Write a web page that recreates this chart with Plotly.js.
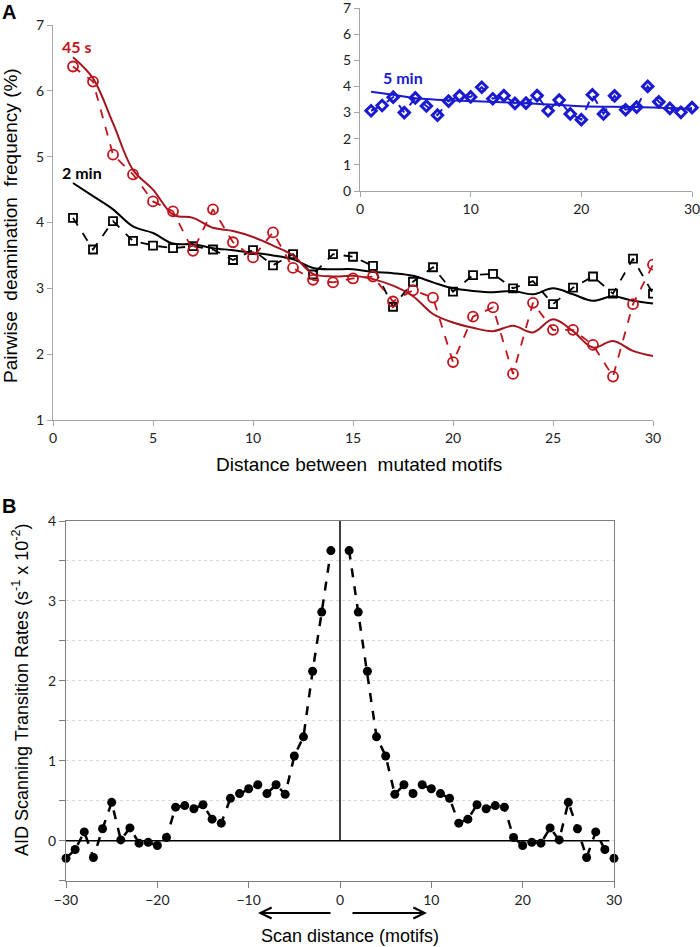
<!DOCTYPE html>
<html>
<head>
<meta charset="utf-8">
<script src="https://cdn.plot.ly/plotly-3.0.1.min.js"></script>
<style>html,body{margin:0;padding:0;background:#fff}#chart{width:700px;height:947px}</style>
</head>
<body>
<div id="chart"></div>
<script>
// ---------- Panel A (main) ----------
const distA = [1,2,3,4,5,6,7,8,9,10,11,12,13,14,15,16,17,18,19,20,21,22,23,24,25,26,27,28,29,30];
const freq45s = [6.37,6.14,5.03,4.73,4.32,4.17,3.57,4.20,3.70,3.47,3.85,3.31,3.13,3.09,3.15,3.18,2.80,2.97,2.86,1.88,2.57,2.71,1.70,2.78,2.37,2.37,2.14,1.66,2.76,3.36];
const trend45s = [6.51,6.19,5.51,4.80,4.50,4.12,4.07,3.92,3.87,3.78,3.65,3.50,3.22,3.18,3.19,3.14,3.04,2.88,2.61,2.48,2.40,2.35,2.43,2.33,2.53,2.35,2.10,2.20,2.05,1.97];
const freq2min = [4.07,3.59,4.02,3.72,3.65,3.61,3.64,3.59,3.43,3.58,3.35,3.52,3.21,3.52,3.48,3.34,2.72,3.10,3.32,2.95,3.20,3.22,3.00,3.11,2.76,3.01,3.18,2.92,3.45,2.92];
const trend2min = [4.60,4.40,4.20,3.94,3.84,3.68,3.67,3.61,3.58,3.54,3.50,3.44,3.31,3.29,3.29,3.25,3.23,3.19,3.09,3.00,2.96,2.94,2.96,2.91,3.00,2.91,2.81,2.88,2.81,2.77];
const xTicksA = [0,5,10,15,20,25,30];
const yTicksA = [1,2,3,4,5,6,7];

// ---------- Panel A (inset, 5 min) ----------
const freq5min = [3.07,3.27,3.59,3.00,3.56,3.25,2.90,3.44,3.64,3.60,3.97,3.53,3.65,3.35,3.36,3.65,3.07,3.48,2.95,2.73,3.68,2.95,3.64,3.11,3.21,4.00,3.41,3.16,3.01,3.19];
const trend5minX = [1,3,5,10,15,20,25,30];
const trend5min = [3.80,3.68,3.55,3.44,3.36,3.24,3.21,3.14];
const xTicksInset = [0,10,20,30];
const yTicksInset = [0,1,2,3,4,5,6,7];

// ---------- Panel B ----------
const scanLeftX = [-30,-29,-28,-27,-26,-25,-24,-23,-22,-21,-20,-19,-18,-17,-16,-15,-14,-13,-12,-11,-10,-9,-8,-7,-6,-5,-4,-3,-2,-1];
const scanLeftRate = [-0.22,-0.11,0.11,-0.21,0.15,0.48,0.01,0.16,-0.03,-0.02,-0.06,0.04,0.42,0.44,0.40,0.45,0.27,0.22,0.53,0.59,0.65,0.70,0.59,0.70,0.58,1.06,1.30,2.12,2.86,3.63];
const scanRightX = [1,2,3,4,5,6,7,8,9,10,11,12,13,14,15,16,17,18,19,20,21,22,23,24,25,26,27,28,29,30];
const scanRightRate = [3.63,2.86,2.12,1.30,1.06,0.58,0.70,0.59,0.70,0.65,0.59,0.53,0.22,0.27,0.45,0.40,0.44,0.42,0.04,-0.06,-0.02,-0.03,0.16,0.01,0.48,0.15,-0.21,0.11,-0.11,-0.22];
const xTicksB = [-30,-20,-10,0,10,20,30];
const yGridB = [-0.5,0,0.5,1,1.5,2,2.5,3,3.5,4];

const RED = '#c0141c', RED_LINE = '#a3151f', BLUE = '#1a1ad0';
const tickFont = {family: 'Lato, Carlito, sans-serif', size: 14, color: '#222'};
const W = 700, H = 947;
const px = v => v / W, py = v => 1 - v / H;

const scanX = scanLeftX.concat([0], scanRightX);
const scanY = scanLeftRate.concat([null], scanRightRate);

const traces = [
  {x: distA, y: trend2min, mode: 'lines', line: {color: '#000', width: 2, shape: 'spline'}, xaxis: 'x', yaxis: 'y', hoverinfo: 'skip'},
  {x: distA, y: freq2min, mode: 'lines+markers', line: {color: '#000', width: 1.8, dash: 'dash'},
   marker: {symbol: 'square-open', size: 8, color: '#000', line: {width: 1.8, color: '#000'}}, xaxis: 'x', yaxis: 'y'},
  {x: distA, y: trend45s, mode: 'lines', line: {color: RED_LINE, width: 2, shape: 'spline'}, xaxis: 'x', yaxis: 'y', hoverinfo: 'skip'},
  {x: distA, y: freq45s, mode: 'lines+markers', line: {color: RED, width: 1.8, dash: 'dash'},
   marker: {symbol: 'circle-open', size: 10, color: RED, line: {width: 1.8, color: RED}}, xaxis: 'x', yaxis: 'y'},
  {x: trend5minX, y: trend5min, mode: 'lines', line: {color: BLUE, width: 2, shape: 'spline'}, xaxis: 'x2', yaxis: 'y2', hoverinfo: 'skip'},
  {x: distA, y: freq5min, mode: 'lines+markers', cliponaxis: false, line: {color: BLUE, width: 2, dash: 'dash'},
   marker: {symbol: 'diamond-open', size: 8, color: BLUE, line: {width: 3, color: BLUE}}, xaxis: 'x2', yaxis: 'y2'},
  {x: scanX, y: scanY, mode: 'lines+markers', connectgaps: false, cliponaxis: false, line: {color: '#000', width: 2.5, dash: 'dash'},
   marker: {symbol: 'circle', size: 9, color: '#000'}, xaxis: 'x3', yaxis: 'y3'}
];

const axBase = {showline: true, linecolor: '#a6a6a6', linewidth: 1.2, ticks: 'outside', ticklen: 5, tickcolor: '#a6a6a6',
  showgrid: false, zeroline: false, tickfont: tickFont, fixedrange: true, ticklabeloverflow: 'allow'};

const titleFontA = {family: 'Liberation Sans, Arial, sans-serif', size: 19, color: '#000'};
const titleFontB = {family: 'Liberation Sans, Arial, sans-serif', size: 18, color: '#000'};
const ann = (o) => Object.assign({xref: 'paper', yref: 'paper', xanchor: 'center', yanchor: 'middle', showarrow: false}, o);

const layout = {
  width: W, height: H, margin: {l: 0, r: 0, t: 0, b: 0}, showlegend: false,
  paper_bgcolor: '#fff', plot_bgcolor: 'rgba(0,0,0,0)',
  xaxis: Object.assign({}, axBase, {domain: [px(53), px(653)], range: [0, 30], tickvals: xTicksA, anchor: 'y'}),
  yaxis: Object.assign({}, axBase, {domain: [py(420), py(25)], range: [1, 7], tickvals: yTicksA, anchor: 'x'}),
  xaxis2: Object.assign({}, axBase, {domain: [px(360), px(692)], range: [0, 30], tickvals: xTicksInset, anchor: 'y2'}),
  yaxis2: Object.assign({}, axBase, {domain: [py(191), py(8)], range: [0, 7], tickvals: yTicksInset, anchor: 'x2'}),
  xaxis3: Object.assign({}, axBase, {domain: [px(66), px(614)], range: [-30, 30], tickvals: xTicksB, anchor: 'y3',
    mirror: true, linecolor: '#7f7f7f', tickcolor: '#7f7f7f', ticklen: 6}),
  yaxis3: Object.assign({}, axBase, {domain: [py(880.7), py(521)], range: [-0.5, 4], anchor: 'x3',
    tickvals: yGridB, ticktext: yGridB.map(v => Number.isInteger(v) ? String(v) : ''),
    mirror: true, linecolor: '#7f7f7f', tickcolor: '#7f7f7f', ticklen: 6,
    showgrid: true, gridcolor: '#d9d9d9', griddash: 'dot', gridwidth: 1}),
  shapes: [
    {type: 'line', xref: 'x3', yref: 'y3', x0: -30, x1: 29.5, y0: 0, y1: 0, line: {color: '#000', width: 1.5}},
    {type: 'line', xref: 'x3', yref: 'y3', x0: 0, x1: 0, y0: 0, y1: 4.04, line: {color: '#000', width: 1.5}}
  ],
  annotations: [
    ann({text: '<b>A</b>', x: px(9), y: py(12), font: {family: 'Liberation Sans, Arial, sans-serif', size: 20, color: '#000'}}),
    ann({text: '<b>B</b>', x: px(9), y: py(506), font: {family: 'Liberation Sans, Arial, sans-serif', size: 20, color: '#000'}}),
    ann({text: '<b>45 s</b>', xref: 'x', yref: 'y', x: 1.15, y: 6.67, font: {family: 'Lato, sans-serif', size: 16, color: RED}}),
    ann({text: '<b>2 min</b>', xref: 'x', yref: 'y', x: 1.45, y: 4.76, font: {family: 'Lato, sans-serif', size: 16, color: '#000'}}),
    ann({text: '<b>5 min</b>', xref: 'x2', yref: 'y2', x: 3.9, y: 4.35, font: {family: 'Lato, sans-serif', size: 16, color: BLUE}}),
    ann({text: 'Pairwise\u00a0\u00a0deamination\u00a0\u00a0frequency (%)', x: px(10), y: py(226), textangle: -90, font: titleFontA}),
    ann({text: 'Distance between\u00a0\u00a0mutated motifs', x: px(359), y: py(464), font: titleFontA}),
    ann({text: 'AID Scanning Transition Rates (s<sup>-1</sup> x 10<sup>-2</sup>)', x: px(20), y: py(690), textangle: -90, font: titleFontB}),
    ann({text: 'Scan distance (motifs)', x: px(350), y: py(936), font: titleFontB}),
    ann({text: '', x: px(258), y: py(913), ax: 74, ay: 0, axref: 'pixel', ayref: 'pixel',
     showarrow: true, arrowhead: 5, arrowsize: 1, arrowwidth: 2.2, arrowcolor: '#000'}),
    ann({text: '', x: px(427), y: py(913), ax: -76, ay: 0, axref: 'pixel', ayref: 'pixel',
     showarrow: true, arrowhead: 5, arrowsize: 1, arrowwidth: 2.2, arrowcolor: '#000'})
  ]
};

Plotly.newPlot('chart', traces, layout, {displayModeBar: false, staticPlot: true});
</script>
</body>
</html>
